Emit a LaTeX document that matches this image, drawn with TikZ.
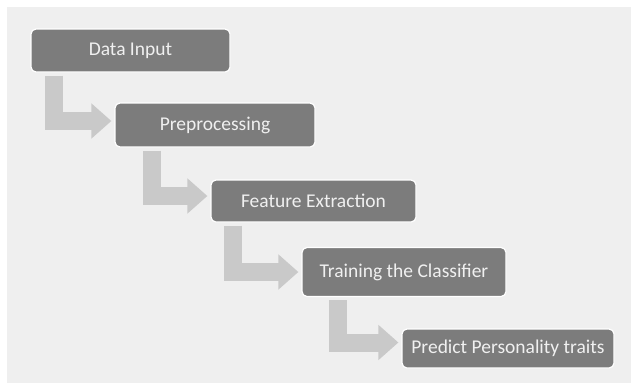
\documentclass[tikz,border=0pt]{standalone}
\usepackage{fontspec}
\setmainfont{Carlito}
\usetikzlibrary{arrows.meta}
\definecolor{stagegray}{HTML}{7C7C7C}
\definecolor{flowgray}{HTML}{C9C9C9}
\definecolor{bggray}{HTML}{EFEFEF}
\tikzset{
    stage/.style={rectangle,rounded corners=5pt,fill=stagegray,draw=white,line width=1.2pt,
        text=white!94!black,font=\fontsize{19.5}{22}\selectfont,inner sep=0pt},
    flow/.style={draw=flowgray,line width=18pt,-{Triangle[length=20pt,width=34pt]},shorten >=3pt}
}
\begin{document}
\begin{tikzpicture}[x=1pt,y=-1pt]
    \useasboundingbox (0,0) rectangle (631,383);
    \fill[bggray] (7,7) rectangle (631,383);
    \node[stage,minimum width=199pt,minimum height=43pt] (input) at (130.5,50.5) {Data Input};
    \node[stage,minimum width=200pt,minimum height=44pt] (prep) at (215,125) {Preprocessing};
    \node[stage,minimum width=205pt,minimum height=42pt] (feat) at (313.5,201) {Feature Extraction};
    \node[stage,minimum width=204pt,minimum height=49pt] (train) at (404,272) {Training the Classifier};
    \node[stage,minimum width=212pt,minimum height=39pt] (pred) at (508,348.5) {Predict Personality traits};
    \draw[flow] ([xshift=24pt,yshift=-3pt]input.south west) |- ([yshift=4pt]prep.west);
    \draw[flow] ([xshift=38pt,yshift=-3pt]prep.south west) |- ([yshift=5pt]feat.west);
    \draw[flow] ([xshift=22.5pt,yshift=-3pt]feat.south west) |- (train.west);
    \draw[flow] ([xshift=36.5pt,yshift=-3pt]train.south west) |- ([yshift=6pt]pred.west);
\end{tikzpicture}
\end{document}
